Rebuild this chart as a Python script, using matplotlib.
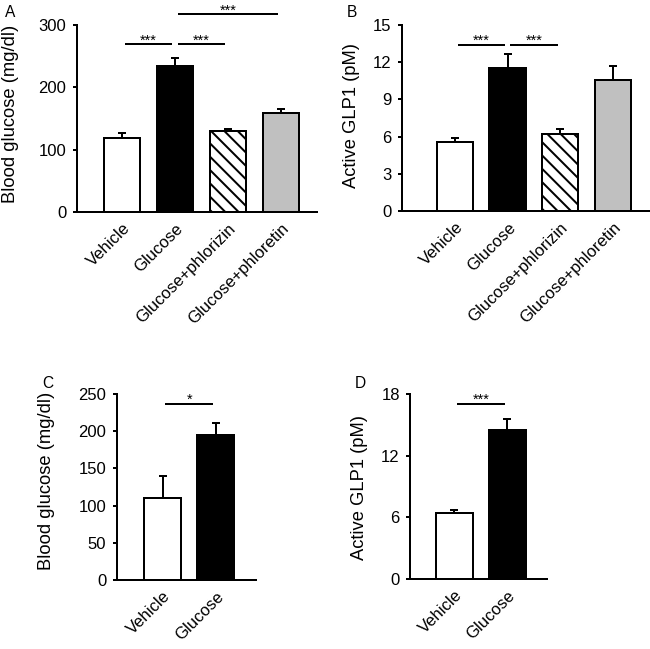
import matplotlib
matplotlib.use('Agg')
import matplotlib.pyplot as plt
import numpy as np

plt.rcParams['font.family'] = ['Liberation Sans', 'DejaVu Sans']
plt.rcParams['hatch.linewidth'] = 1.8

# data
groups_ab = ['Vehicle', 'Glucose', 'Glucose+phlorizin', 'Glucose+phloretin']
glucose_a = [118, 234, 130, 159]
glucose_a_err = [8, 13, 3, 6]
glp1_b = [5.6, 11.5, 6.2, 10.6]
glp1_b_err = [0.27, 1.14, 0.43, 1.1]

groups_cd = ['Vehicle', 'Glucose']
glucose_c = [110, 195]
glucose_c_err = [29.5, 15.5]
glp1_d = [6.45, 14.5]
glp1_d_err = [0.3, 1.1]

# significance bars: (from, to, height, label)
sig_a = [(0, 1, 269, '***'), (1, 2, 269, '***'), (1, 3, 317, '***')]
sig_b = [(0, 1, 13.4, '***'), (1, 2, 13.4, '***')]
sig_c = [(0, 1, 237, '*')]
sig_d = [(0, 1, 17.0, '***')]

fills = ['white', 'black', 'white', '#c0c0c0']
hatches = [None, None, '\\\\', None]

W, H = 650, 649
fig = plt.figure(figsize=(W / 80, H / 80), dpi=80)


def px_axes(l, r, t, b):
    return fig.add_axes([l / W, 1 - b / H, (r - l) / W, (b - t) / H])


def draw(ax, groups, vals, errs, sigs, ymax, yticks, xlim, ylabel, lab_xy):
    x = np.arange(len(groups))
    ax.bar(x, vals, width=0.69, color=fills[:len(groups)], edgecolor='black',
           linewidth=1.8, hatch=hatches[:len(groups)], zorder=2)
    ax.errorbar(x, vals, yerr=[np.zeros(len(vals)), errs], fmt='none',
                ecolor='black', elinewidth=1.8, capsize=3.6, capthick=1.8, zorder=3)
    for i, j, h, s in sigs:
        ax.plot([i + 0.05, j - 0.05], [h, h], color='black', lw=1.8,
                clip_on=False, solid_capstyle='butt')
        ax.text((i + j) / 2, h, s, ha='center', va='baseline', fontsize=13,
                clip_on=False)
    ax.set_xlim(*xlim)
    ax.set_ylim(0, ymax)
    ax.set_yticks(yticks)
    ax.set_xticks(x)
    ax.set_xticklabels(groups, rotation=45, ha='right', va='top',
                       rotation_mode='anchor', fontsize=15)
    ax.tick_params(axis='x', length=0, pad=8)
    ax.tick_params(axis='y', length=3.6, width=1.8, pad=6, labelsize=15)
    for sp in ['top', 'right']:
        ax.spines[sp].set_visible(False)
    for sp in ['left', 'bottom']:
        ax.spines[sp].set_linewidth(1.8)
    ax.set_ylabel(ylabel, fontsize=16.5, va='center')
    ax.yaxis.set_label_coords(lab_xy[0] / W, 1 - lab_xy[1] / H,
                              transform=fig.transFigure)


ax_a = px_axes(77, 317, 25, 212)
draw(ax_a, groups_ab, glucose_a, glucose_a_err, sig_a, 300, [0, 100, 200, 300],
     (-0.85, 3.68), 'Blood glucose (mg/dl)', (11, 114))

ax_b = px_axes(402, 650, 25, 211)
draw(ax_b, groups_ab, glp1_b, glp1_b_err, sig_b, 15, [0, 3, 6, 9, 12, 15],
     (-1.01, 3.71), 'Active GLP1 (pM)', (352, 115))

ax_c = px_axes(117, 256, 394, 580)
draw(ax_c, groups_cd, glucose_c, glucose_c_err, sig_c, 250, [0, 50, 100, 150, 200, 250],
     (-0.86, 1.76), 'Blood glucose (mg/dl)', (47, 481))

ax_d = px_axes(410.5, 547, 394, 579)
draw(ax_d, groups_cd, glp1_d, glp1_d_err, sig_d, 18, [0, 6, 12, 18],
     (-0.83, 1.75), 'Active GLP1 (pM)', (360, 487))

for lab, xp, yp in [('A', 5, 17), ('B', 347, 17), ('C', 42, 388), ('D', 355, 388)]:
    fig.text(xp / W, 1 - yp / H, lab, fontsize=14, ha='left', va='baseline')

fig.savefig('out.png', dpi=80)
